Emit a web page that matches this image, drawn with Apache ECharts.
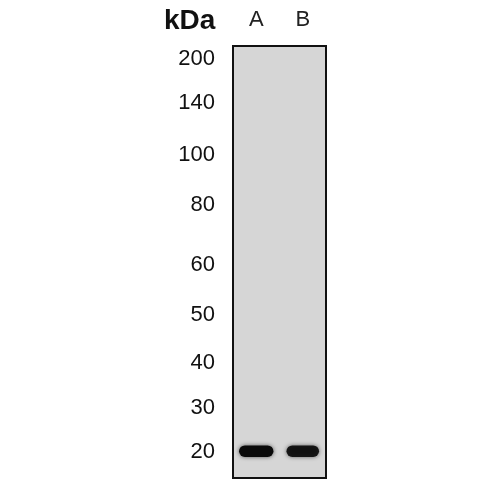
<!DOCTYPE html>
<html>
<head>
<meta charset="utf-8">
<script src="https://cdn.jsdelivr.net/npm/echarts@6/dist/echarts.min.js"></script>
<style>
  html, body { margin: 0; padding: 0; background: #fff; }
  #chart { width: 500px; height: 500px; }
</style>
</head>
<body>
<div id="chart"></div>
<script>
// 레인과 마커 (이동 거리: 겔 위쪽 0 ~ 아래쪽 100)
let lanes = ["A", "B"];
let markerLabels = ["200", "140", "100", "80", "60", "50", "40", "30", "20"];
let markerPos = [3.0, 13.2, 25.2, 36.8, 50.7, 62.3, 73.4, 83.8, 94.0];

// 밴드 위치와 진하기
let bandPos = [93.8, 93.8];
let bandIntensity = [1.0, 0.92];
let bandWidth = [0.74, 0.70];

let chart = echarts.init(document.getElementById("chart"));

let bandData = lanes.map(function (lane, i) {
  return [i, bandPos[i], bandIntensity[i], bandWidth[i]];
});

let option = {
  animation: false,
  title: {
    text: "kDa",
    left: 159,
    top: 2,
    textStyle: { fontSize: 28, fontWeight: "bold", color: "#111", fontFamily: "Liberation Sans" }
  },
  grid: {
    left: 233, right: 174, top: 46, bottom: 22,
    show: true,
    backgroundColor: "#d6d6d6",
    borderColor: "#111",
    borderWidth: 2
  },
  xAxis: {
    type: "category",
    data: lanes,
    position: "top",
    axisLine: { show: false },
    axisTick: { show: false },
    axisLabel: { fontSize: 22, color: "#222", margin: 15, fontFamily: "Liberation Sans" }
  },
  yAxis: {
    type: "value",
    inverse: true,
    min: 0,
    max: 100,
    axisLine: { show: false },
    axisTick: { show: false },
    splitLine: { show: false },
    axisLabel: {
      customValues: markerPos,
      fontSize: 22,
      color: "#111",
      margin: 18,
      fontFamily: "Liberation Sans",
      formatter: function (v) {
        let idx = markerPos.indexOf(v);
        return idx >= 0 ? markerLabels[idx] : "";
      }
    }
  },
  series: [
    {
      type: "custom",
      data: bandData,
      renderItem: function (params, api) {
        let c = api.coord([api.value(0), api.value(1)]);
        let w = api.size([1, 0])[0] * api.value(3);
        let h = api.size([0, 2.7])[1];
        return {
          type: "rect",
          shape: { x: c[0] - w / 2, y: c[1] - h / 2, width: w, height: h, r: h / 2 },
          style: {
            fill: "#0a0a0a",
            opacity: api.value(2),
            shadowBlur: 4,
            shadowColor: "rgba(0,0,0,0.6)"
          }
        };
      }
    }
  ]
};
chart.setOption(option);
</script>
</body>
</html>
